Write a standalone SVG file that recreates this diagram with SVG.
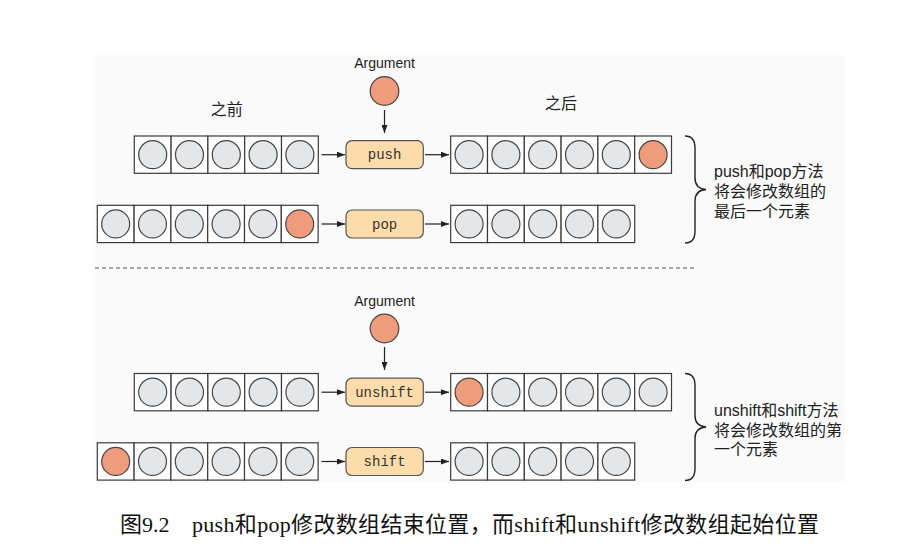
<svg xmlns="http://www.w3.org/2000/svg" width="908" height="559" viewBox="0 0 908 559">
<style>
.cellbox{fill:#ffffff;stroke:#3a3a3a;stroke-width:1.2}
.gray{fill:#e4e7ea;stroke:#454545;stroke-width:1.2}
.orange{fill:#ee9c7b;stroke:#454545;stroke-width:1.2}
.op{fill:#fbdcaa;stroke:#555;stroke-width:1.2}
.mono{font-family:"Liberation Mono","DejaVu Sans Mono",monospace;font-size:14px;fill:#333;text-anchor:middle}
.sans{font-family:"Liberation Sans","Noto Sans CJK SC",sans-serif;fill:#222}
.cjk{font-family:"Liberation Sans","Noto Sans CJK SC",sans-serif;font-size:16px;fill:#222}
.conn{stroke:#222;stroke-width:1.2;fill:none}
.brace{stroke:#222;stroke-width:1.4;fill:none}
.cap{font-family:"Liberation Serif","Noto Sans CJK SC",serif;font-size:22px;fill:#111}
</style>
<defs>
<g id="cellG"><rect class="cellbox" x="0" y="0" width="36.8" height="37.3"/><circle class="gray" cx="18.4" cy="18.65" r="14"/></g>
<g id="cellO"><rect class="cellbox" x="0" y="0" width="36.8" height="37.3"/><circle class="orange" cx="18.4" cy="18.65" r="14"/></g>
<marker id="ah" markerWidth="8" markerHeight="6" refX="8" refY="3" orient="auto" markerUnits="userSpaceOnUse">
<path d="M0,0 L8,3 L0,6 Z" fill="#222"/>
</marker>
</defs>
<rect x="95" y="55" width="750" height="427" fill="#fafafa"/>
<line x1="95" y1="268" x2="695" y2="268" stroke="#555" stroke-width="1" stroke-dasharray="4 3"/>

<g id="labels">
<text class="cjk" x="226.7" y="115" text-anchor="middle">之前</text>
<text class="cjk" x="561" y="109" text-anchor="middle">之后</text>
</g>

<g id="arg-top">
<text class="sans" x="384.5" y="68" font-size="14" text-anchor="middle">Argument</text>
<circle class="orange" cx="384.5" cy="91" r="14.3"/>
</g>
<g id="arg-bottom">
<text class="sans" x="384.5" y="305.5" font-size="14" text-anchor="middle">Argument</text>
<circle class="orange" cx="384.5" cy="328.5" r="14.3"/>
</g>

<g id="push-before">
<use href="#cellG" x="134.3" y="136"/><use href="#cellG" x="171.1" y="136"/><use href="#cellG" x="207.9" y="136"/><use href="#cellG" x="244.7" y="136"/><use href="#cellG" x="281.5" y="136"/>
</g>
<g id="pop-before">
<use href="#cellG" x="97.3" y="205.3"/><use href="#cellG" x="134.1" y="205.3"/><use href="#cellG" x="170.9" y="205.3"/><use href="#cellG" x="207.7" y="205.3"/><use href="#cellG" x="244.5" y="205.3"/><use href="#cellO" x="281.3" y="205.3"/>
</g>
<g id="push-after">
<use href="#cellG" x="450.7" y="136"/><use href="#cellG" x="487.5" y="136"/><use href="#cellG" x="524.3" y="136"/><use href="#cellG" x="561.1" y="136"/><use href="#cellG" x="597.9" y="136"/><use href="#cellO" x="634.7" y="136"/>
</g>
<g id="pop-after">
<use href="#cellG" x="450.7" y="205.3"/><use href="#cellG" x="487.5" y="205.3"/><use href="#cellG" x="524.3" y="205.3"/><use href="#cellG" x="561.1" y="205.3"/><use href="#cellG" x="597.9" y="205.3"/>
</g>
<g id="unshift-before">
<use href="#cellG" x="134.3" y="373.5"/><use href="#cellG" x="171.1" y="373.5"/><use href="#cellG" x="207.9" y="373.5"/><use href="#cellG" x="244.7" y="373.5"/><use href="#cellG" x="281.5" y="373.5"/>
</g>
<g id="shift-before">
<use href="#cellO" x="97.3" y="442.8"/><use href="#cellG" x="134.1" y="442.8"/><use href="#cellG" x="170.9" y="442.8"/><use href="#cellG" x="207.7" y="442.8"/><use href="#cellG" x="244.5" y="442.8"/><use href="#cellG" x="281.3" y="442.8"/>
</g>
<g id="unshift-after">
<use href="#cellO" x="450.7" y="373.5"/><use href="#cellG" x="487.5" y="373.5"/><use href="#cellG" x="524.3" y="373.5"/><use href="#cellG" x="561.1" y="373.5"/><use href="#cellG" x="597.9" y="373.5"/><use href="#cellG" x="634.7" y="373.5"/>
</g>
<g id="shift-after">
<use href="#cellG" x="450.7" y="442.8"/><use href="#cellG" x="487.5" y="442.8"/><use href="#cellG" x="524.3" y="442.8"/><use href="#cellG" x="561.1" y="442.8"/><use href="#cellG" x="597.9" y="442.8"/>
</g>

<g id="op-push"><rect class="op" x="346" y="140.7" width="77.3" height="28" rx="6"/><text class="mono" x="384.6" y="159">push</text></g>
<g id="op-pop"><rect class="op" x="346" y="210" width="77.3" height="28" rx="6"/><text class="mono" x="384.6" y="228.5">pop</text></g>
<g id="op-unshift"><rect class="op" x="346" y="378.2" width="77.3" height="28" rx="6"/><text class="mono" x="384.6" y="396.5">unshift</text></g>
<g id="op-shift"><rect class="op" x="346" y="447.5" width="77.3" height="28" rx="6"/><text class="mono" x="384.6" y="466">shift</text></g>

<g id="connectors">
<line class="conn" x1="384.5" y1="110" x2="384.5" y2="133" marker-end="url(#ah)"/>
<line class="conn" x1="384.5" y1="347" x2="384.5" y2="370" marker-end="url(#ah)"/>
<line class="conn" x1="321.5" y1="154.7" x2="345" y2="154.7" marker-end="url(#ah)"/>
<line class="conn" x1="425" y1="154.7" x2="449" y2="154.7" marker-end="url(#ah)"/>
<line class="conn" x1="321.5" y1="224" x2="345" y2="224" marker-end="url(#ah)"/>
<line class="conn" x1="425" y1="224" x2="449" y2="224" marker-end="url(#ah)"/>
<line class="conn" x1="321.5" y1="392.2" x2="345" y2="392.2" marker-end="url(#ah)"/>
<line class="conn" x1="425" y1="392.2" x2="449" y2="392.2" marker-end="url(#ah)"/>
<line class="conn" x1="321.5" y1="461.5" x2="345" y2="461.5" marker-end="url(#ah)"/>
<line class="conn" x1="425" y1="461.5" x2="449" y2="461.5" marker-end="url(#ah)"/>
</g>

<g id="note-top">
<path class="brace" d="M685,136 C692,136 695,140 695,148 L695,178 C695,185 699,189 706,189.5 C699,190 695,194 695,201 L695,231 C695,239 692,243 685,243"/>
<text class="cjk" x="714" y="177">push和pop方法</text>
<text class="cjk" x="714" y="197">将会修改数组的</text>
<text class="cjk" x="714" y="216.5">最后一个元素</text>
</g>
<g id="note-bottom">
<path class="brace" d="M685,373.5 C692,373.5 695,377.5 695,385.5 L695,415.5 C695,422.5 699,426.5 706,427 C699,427.5 695,431.5 695,438.5 L695,468.5 C695,476.5 692,480.5 685,480.5"/>
<text class="cjk" x="714" y="416">unshift和shift方法</text>
<text class="cjk" x="714" y="435.5">将会修改数组的第</text>
<text class="cjk" x="714" y="455">一个元素</text>
</g>

<g id="caption">
<text class="cap" x="120" y="532">图9.2</text>
<text class="cap" x="192" y="532" textLength="627" lengthAdjust="spacing">push和pop修改数组结束位置，而shift和unshift修改数组起始位置</text>
</g>
</svg>
